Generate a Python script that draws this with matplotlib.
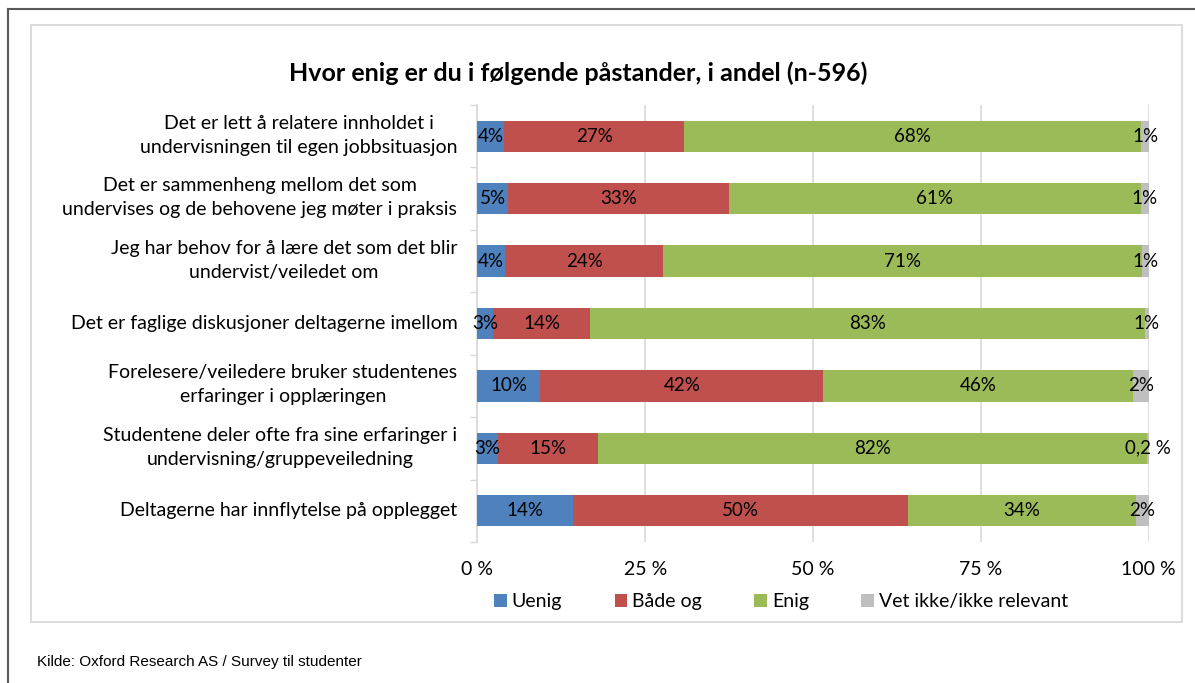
import numpy as np
import matplotlib.pyplot as plt
import matplotlib.transforms as mtransforms
from matplotlib.patches import Rectangle
from matplotlib.lines import Line2D

plt.rcParams['font.family'] = ['Lato', 'DejaVu Sans']

# statements, top to bottom
statements = [
    "Det er lett å relatere innholdet i\nundervisningen til egen jobbsituasjon",
    "Det er sammenheng mellom det som\nundervises og de behovene jeg møter i praksis",
    "Jeg har behov for å lære det som det blir\nundervist/veiledet om",
    "Det er faglige diskusjoner deltagerne imellom",
    "Forelesere/veiledere bruker studentenes\nerfaringer i opplæringen",
    "Studentene deler ofte fra sine erfaringer i\nundervisning/gruppeveiledning",
    "Deltagerne har innflytelse på opplegget",
]
series = ["Uenig", "Både og", "Enig", "Vet ikke/ikke relevant"]
colors = ["#4F81BD", "#C0504D", "#9BBB59", "#BFBFBF"]

uenig = [4.0, 4.6, 4.1, 2.4, 9.4, 3.1, 14.2]
begge = [26.8, 32.9, 23.6, 14.4, 42.1, 14.9, 50.0]
enig = [68.1, 61.3, 71.3, 82.6, 46.1, 81.8, 33.9]
vetikke = [1.1, 1.2, 1.0, 0.6, 2.4, 0.2, 1.9]

lbl_uenig = ["4%", "5%", "4%", "3%", "10%", "3%", "14%"]
lbl_begge = ["27%", "33%", "24%", "14%", "42%", "15%", "50%"]
lbl_enig = ["68%", "61%", "71%", "83%", "46%", "82%", "34%"]
lbl_vet = ["1%", "1%", "1%", "1%", "2%", "0,2 %", "2%"]

xticks = [0, 25, 50, 75, 100]
xticklabels = ["0 %", "25 %", "50 %", "75 %", "100 %"]

W, H = 1195, 683
fig = plt.figure(figsize=(W / 100, H / 100), dpi=100)

# frames
fig.add_artist(Rectangle((31 / W, 1 - 622 / H), (1182 - 31) / W, (622 - 25) / H,
                         transform=fig.transFigure, fill=False, ec="#D9D9D9", lw=1.3))
fig.add_artist(Line2D([8 / W, 1.0], [1 - 9 / H, 1 - 9 / H], transform=fig.transFigure,
                      color="#5A5A5A", lw=1.5))
fig.add_artist(Line2D([8 / W, 8 / W], [1 - 9 / H, 0], transform=fig.transFigure,
                      color="#5A5A5A", lw=1.5))

ax = fig.add_axes([477.3 / W, 1 - 542 / H, (1148.7 - 477.3) / W, (542 - 105) / H])

y = np.arange(len(statements))
data = [uenig, begge, enig, vetikke]
labels = [lbl_uenig, lbl_begge, lbl_enig, lbl_vet]
left = np.zeros(len(statements))
for vals, col, name, lbls in zip(data, colors, series, labels):
    vals = np.array(vals)
    ax.barh(y, vals, left=left, height=0.5, color=col, label=name, zorder=3)
    for yi, l, v, t in zip(y, left, vals, lbls):
        ax.text(l + v / 2, yi, t, ha="center", va="center", fontsize=13.5,
                color="black", zorder=4)
    left += vals

ax.set_xlim(0, 100)
ax.set_ylim(len(statements) - 0.5, -0.5)
ax.set_xticks(xticks)
ax.set_xticklabels(xticklabels, fontsize=14)
ax.tick_params(axis="x", length=0, pad=14)

# category labels drawn as text so two-line ones can sit a bit higher
ax.set_yticks([])
trans = mtransforms.blended_transform_factory(ax.transAxes, ax.transData)
up = mtransforms.ScaledTranslation(0, 1 / 100, fig.dpi_scale_trans)
for yi, s in zip(y, statements):
    tr = trans + up if "\n" in s else trans
    ax.text(-20 / 671.4, yi, s, transform=tr, ha="right", va="center",
            multialignment="center", linespacing=1.5, fontsize=14)

ax.set_yticks(np.arange(-0.5, len(statements)), minor=True)
ax.tick_params(axis="y", which="minor", length=5, color="#D9D9D9", width=1)
ax.grid(axis="x", color="#D9D9D9", lw=1.2, zorder=0)
for s in ["top", "right", "bottom"]:
    ax.spines[s].set_visible(False)
ax.spines["left"].set_color("#D9D9D9")
ax.spines["left"].set_linewidth(1.2)

fig.text(578.5 / W, 1 - 73 / H, "Hvor enig er du i følgende påstander, i andel (n-596)",
         ha="center", va="center", fontsize=18, fontweight="bold")

fig.legend(loc="center", bbox_to_anchor=(781 / W, 1 - 602 / H), ncol=4, frameon=False,
           fontsize=14, handlelength=0.65, handleheight=0.65, handletextpad=0.25,
           columnspacing=2.7)

fig.text(37 / W, 1 - 662 / H, "Kilde: Oxford Research AS / Survey til studenter",
         ha="left", va="center", fontsize=11, family=["Liberation Sans"])

fig.savefig("out.png", dpi=100)
